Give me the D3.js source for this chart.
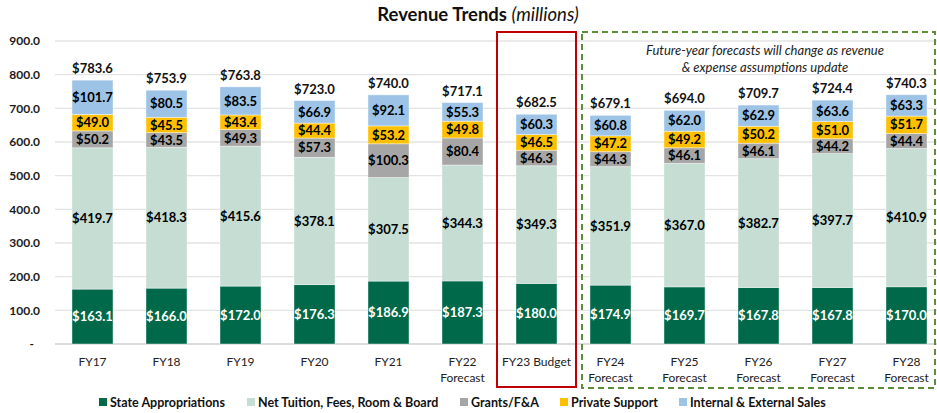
<!DOCTYPE html>
<html><head><meta charset="utf-8">
<script src="https://cdn.jsdelivr.net/npm/d3@7"></script>
<style>
body{margin:0;background:#fff;}
text{font-family:Lato,"Open Sans",sans-serif;}
</style></head>
<body><svg id="c" width="937" height="413"></svg>
<script>
const categories = [["FY17"],["FY18"],["FY19"],["FY20"],["FY21"],["FY22","Forecast"],["FY23 Budget"],["FY24","Forecast"],["FY25","Forecast"],["FY26","Forecast"],["FY27","Forecast"],["FY28","Forecast"]];
const seriesNames = ["State Appropriations","Net Tuition, Fees, Room & Board","Grants/F&A","Private Support","Internal & External Sales"];
const stateApprop = [163.1,166.0,172.0,176.3,186.9,187.3,180.0,174.9,169.7,167.8,167.8,170.0];
const netTuition  = [419.7,418.3,415.6,378.1,307.5,344.3,349.3,351.9,367.0,382.7,397.7,410.9];
const grantsFA    = [50.2,43.5,49.3,57.3,100.3,80.4,46.3,44.3,46.1,46.1,44.2,44.4];
const privateSupport = [49.0,45.5,43.4,44.4,53.2,49.8,46.5,47.2,49.2,50.2,51.0,51.7];
const internalSales  = [101.7,80.5,83.5,66.9,92.1,55.3,60.3,60.8,62.0,62.9,63.6,63.3];
const totals = [783.6,753.9,763.8,723.0,740.0,717.1,682.5,679.1,694.0,709.7,724.4,740.3];
const yTicks = [0,100,200,300,400,500,600,700,800,900];
const colors = ["#00694a","#c5ddd3","#a6a6a6","#ffc000","#9dc3e6"];
const labelColors = ["#ffffff","#000000","#000000","#000000","#000000"];

const svg = d3.select("#c");
const series = [stateApprop, netTuition, grantsFA, privateSupport, internalSales];
const idx = categories.map((d,i)=>i);

const x = d3.scaleBand().domain(idx).range([55.5, 943.5]).paddingInner(0.446).paddingOuter(0.223);
const y = d3.scaleLinear().domain([0,900]).range([344,41]);

// gridlines
svg.append("g").selectAll("line").data(yTicks).join("line")
  .attr("x1",55).attr("x2",937).attr("y1",d=>y(d)).attr("y2",d=>y(d))
  .attr("stroke",d=>d===0?"#d0d0d0":"#e3e3e3").attr("stroke-width",1.3);

// y axis labels
const yAxis = d3.axisLeft(y).tickValues(yTicks).tickSize(0).tickPadding(0)
  .tickFormat(d=> d===0 ? "-" : d3.format(".1f")(d));
const ya = svg.append("g").attr("transform","translate(40,0)").call(yAxis);
ya.select(".domain").remove();
ya.selectAll("text").attr("font-family","Lato").attr("font-weight","bold").attr("font-size",12).attr("fill","#1a1a1a")
  .attr("dx",d=>d===0?-6:0);

// stack
const stackData = idx.map(i=>{const o={i}; series.forEach((s,k)=>o[k]=s[i]); return o;});
const stacked = d3.stack().keys(d3.range(series.length))(stackData);

const g = svg.append("g");
stacked.forEach((layer,k)=>{
  g.append("g").selectAll("rect").data(layer).join("rect")
    .attr("x",d=>x(d.data.i)).attr("width",x.bandwidth())
    .attr("y",d=>y(d[1])).attr("height",d=>y(d[0])-y(d[1]))
    .attr("fill",colors[k]).attr("stroke","#ffffff").attr("stroke-opacity",0.5).attr("stroke-width",0.8);
  g.append("g").selectAll("text").data(layer).join("text")
    .attr("x",d=>x(d.data.i)+x.bandwidth()/2)
    .attr("y",d=>(y(d[0])+y(d[1]))/2+4.7)
    .attr("text-anchor","middle").attr("font-weight","bold").attr("font-size",13)
    .attr("fill",labelColors[k])
    .text(d=>"$"+d3.format(".1f")(d.data[k]));
});
// totals
g.append("g").selectAll("text").data(idx).join("text")
  .attr("x",i=>x(i)+x.bandwidth()/2)
  .attr("y",i=>y(stacked[4][i][1])-7)
  .attr("text-anchor","middle").attr("font-weight","bold").attr("font-size",13).attr("fill","#111")
  .text(i=>"$"+d3.format(".1f")(totals[i]));

// x labels
const xl = svg.append("g").selectAll("text").data(idx).join("text")
  .attr("x",i=>x(i)+x.bandwidth()/2).attr("y",366)
  .attr("text-anchor","middle").attr("font-size",12).attr("fill","#222");
xl.each(function(i){
  const t=d3.select(this);
  categories[i].forEach((line,j)=>t.append("tspan").attr("x",x(i)+x.bandwidth()/2).attr("dy",j===0?0:16).text(line));
});

// red box around FY23
const b6 = x(6)+x.bandwidth()/2;
svg.append("rect").attr("x",b6-39.5).attr("y",32).attr("width",79).attr("height",355)
  .attr("fill","none").attr("stroke","#c00000").attr("stroke-width",2);
// green dashed box
svg.append("rect").attr("x",582).attr("y",32).attr("width",353).attr("height",356)
  .attr("fill","none").attr("stroke","#5b8f35").attr("stroke-width",2).attr("stroke-dasharray","6,4");

// annotation
const ann = svg.append("text").attr("x",765).attr("y",55).attr("text-anchor","middle")
  .attr("font-style","italic").attr("font-size",13).attr("fill","#222");
ann.append("tspan").attr("x",765).attr("dy",0).text("Future-year forecasts will change as revenue");
ann.append("tspan").attr("x",765).attr("dy",17).text("& expense assumptions update");

// title
const title = svg.append("text").attr("x",478).attr("y",21).attr("text-anchor","middle").attr("font-size",18.5).attr("fill","#111");
title.append("tspan").attr("font-weight","bold").text("Revenue Trends ");
title.append("tspan").attr("font-style","italic").text("(millions)");

// legend
const legendX = [99,247,460,560,679];
const lg = svg.append("g").selectAll("g").data(seriesNames).join("g")
  .attr("transform",(d,k)=>`translate(${legendX[k]},398)`);
lg.append("rect").attr("width",8).attr("height",8).attr("fill",(d,k)=>colors[k]);
lg.append("text").attr("x",11).attr("y",8.5).attr("font-weight","bold").attr("font-size",12.5).attr("fill","#111").text(d=>d);
</script></body></html>
